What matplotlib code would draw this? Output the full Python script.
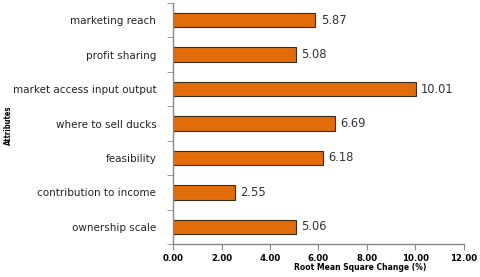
import matplotlib
matplotlib.use("Agg")
import matplotlib.pyplot as plt

categories = ["marketing reach", "profit sharing", "market access input output",
              "where to sell ducks", "feasibility", "contribution to income", "ownership scale"]
values = [5.87, 5.08, 10.01, 6.69, 6.18, 2.55, 5.06]
xticks = [0, 2, 4, 6, 8, 10, 12]

plt.rcParams['font.family'] = ['DejaVu Sans']

fig = plt.figure(figsize=(4.8, 2.77), dpi=100)
ax = fig.add_axes([173/480, 1-244/277, (464-173)/480, (244-3)/277])

n = len(categories)
ypos = list(range(n))[::-1]
ax.barh(ypos, values, height=0.42, color="#E36C0A", edgecolor="#3a2a1a", linewidth=0.8)
for y, v in zip(ypos, values):
    ax.text(v + 0.22, y, f"{v:.2f}", va="center", ha="left", fontsize=8.3, color="#333333")

ax.set_xlim(0, 12)
ax.set_ylim(-0.5, n - 0.5)
ax.set_xticks(xticks)
ax.set_xticklabels([f"{t:.2f}" for t in xticks], fontsize=6.2, fontweight="bold")
ax.set_yticks(ypos)
ax.set_yticklabels(categories, fontsize=7.5, color="#222222")
ax.set_yticks([i - 0.5 for i in range(n + 1)], minor=True)
ax.tick_params(axis="y", which="major", length=0, pad=12)
ax.tick_params(axis="y", which="minor", length=4, color="#888888")
ax.tick_params(axis="x", length=4, color="#888888", pad=3)
for s in ["top", "right"]:
    ax.spines[s].set_visible(False)
for s in ["left", "bottom"]:
    ax.spines[s].set_color("#888888")
    ax.spines[s].set_linewidth(1.0)

fig.text(360/480, 1-268/277, "Root Mean Square Change (%)", ha="center", va="center",
         fontsize=5.5, fontweight="bold")
fig.text(8/480, 1-125/277, "Attributes", ha="center", va="center", rotation=90,
         fontsize=5.5, fontweight="bold", fontstretch="condensed")

fig.savefig("out.png", dpi=100)
